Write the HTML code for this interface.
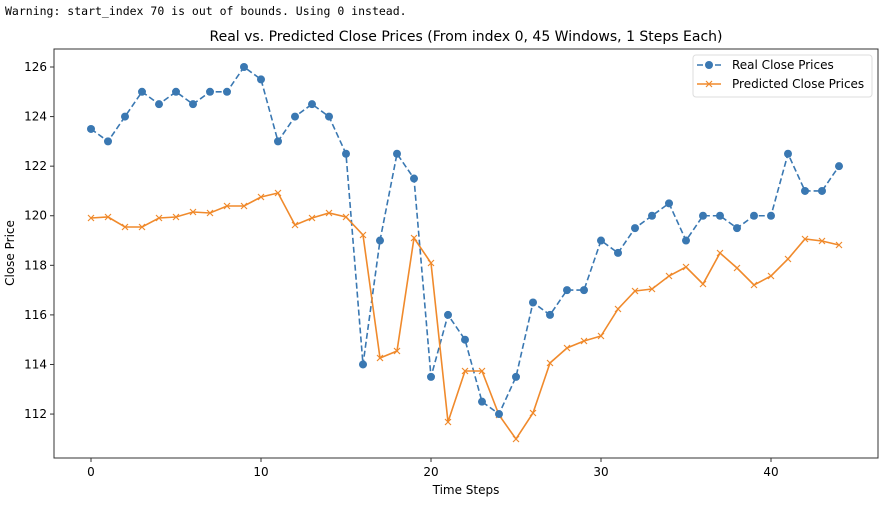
<!DOCTYPE html>
<html><head><meta charset="utf-8"><style>
body{margin:0;background:#fff;width:894px;height:503px;overflow:hidden}
svg text{font-family:"DejaVu Sans","Liberation Sans",sans-serif;fill:#000}
</style></head><body>
<svg width="894" height="503" xmlns="http://www.w3.org/2000/svg">
<text x="5" y="15" style="font-family:'DejaVu Sans Mono','Liberation Mono',monospace;font-size:11.5px">Warning: start_index 70 is out of bounds. Using 0 instead.</text>
<text x="466" y="41" text-anchor="middle" font-size="14">Real vs. Predicted Close Prices (From index 0, 45 Windows, 1 Steps Each)</text>
<rect x="54" y="49" width="824" height="409" fill="none" stroke="#333" stroke-width="1"/>
<g id="g"></g>
<g transform="translate(693,55)">
<rect x="0" y="0" width="179" height="42" rx="3" fill="#fff" stroke="#ddd"/>
<line x1="4" y1="10" x2="28" y2="10" stroke="#3a78b2" stroke-width="1.6" stroke-dasharray="6,3"/>
<circle cx="16" cy="10" r="4" fill="#3a78b2"/>
<text x="39" y="14" font-size="12">Real Close Prices</text>
<line x1="4" y1="29" x2="28" y2="29" stroke="#f08a2c" stroke-width="1.6"/>
<path d="M13 26l6 6M19 26l-6 6" stroke="#f08a2c" stroke-width="1.2"/>
<text x="39" y="33" font-size="12">Predicted Close Prices</text>
</g>
<text x="466" y="494" text-anchor="middle" font-size="12">Time Steps</text>
<text transform="translate(14,253) rotate(-90)" text-anchor="middle" font-size="12">Close Price</text>
</svg>
<script>
var real=[123.5,123,124,125,124.5,125,124.5,125,125,126,125.5,123,124,124.5,124,122.5,114,119,122.5,121.5,113.5,116,115,112.5,112,113.5,116.5,116,117,117,119,118.5,119.5,120,120.5,119,120,120,119.5,120,120,122.5,121,121,122];
var py=[218,217,227,227,218,217,212,213,206,206,197,193,225,218,213,217,235,358,351,238,263,422,371,371,415,439,413,363,348,341,336,309,291,289,276,267,284,253,268,285,276,259,239,241,245];
function X(i){return 91+i*17}function Y(v){return 67+(126-v)*24.79}
var s='';
for(var t=112;t<=126;t+=2){var y=Y(t);s+='<line x1="50" y1="'+y+'" x2="54" y2="'+y+'" stroke="#333"/><text x="47" y="'+(y+4)+'" text-anchor="end" font-size="12">'+t+'</text>';}
for(var t=0;t<=40;t+=10){var x=X(t);s+='<line x1="'+x+'" y1="458" x2="'+x+'" y2="462" stroke="#333"/><text x="'+x+'" y="476" text-anchor="middle" font-size="12">'+t+'</text>';}
var rp=real.map(function(v,i){return X(i)+','+Y(v)}).join(' ');
s+='<polyline points="'+rp+'" fill="none" stroke="#3a78b2" stroke-width="1.6" stroke-dasharray="6,3"/>';
var pp=py.map(function(v,i){return X(i)+','+v}).join(' ');
s+='<polyline points="'+pp+'" fill="none" stroke="#f08a2c" stroke-width="1.6"/>';
py.forEach(function(v,i){var x=X(i);s+='<path d="M'+(x-3)+' '+(v-3)+'l6 6M'+(x+3)+' '+(v-3)+'l-6 6" stroke="#f08a2c" stroke-width="1.2"/>';});
real.forEach(function(v,i){s+='<circle cx="'+X(i)+'" cy="'+Y(v)+'" r="4" fill="#3a78b2"/>';});
document.getElementById('g').innerHTML=s;
</script>
</body></html>
